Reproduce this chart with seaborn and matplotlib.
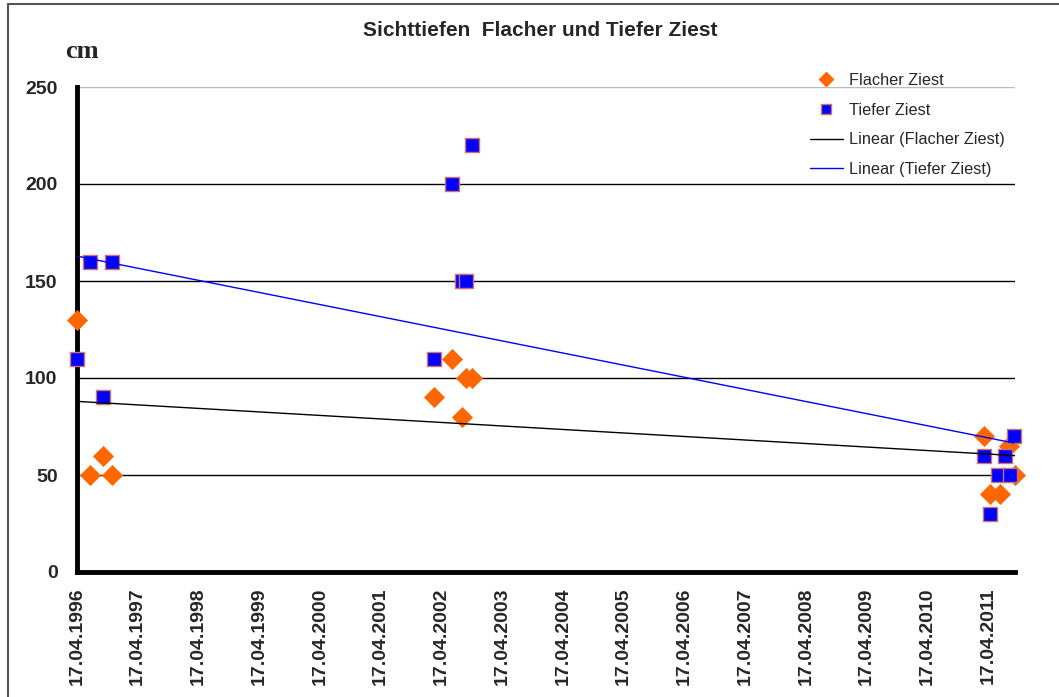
import matplotlib
matplotlib.use("Agg")
import matplotlib.pyplot as plt
import matplotlib.dates as mdates
from matplotlib.lines import Line2D
import pandas as pd
import seaborn as sns

# Sichttiefen (cm)
flach_dates = ["17.04.1996", "04.07.1996", "20.09.1996", "13.11.1996",
               "01.03.2002", "17.06.2002", "16.08.2002", "09.09.2002", "21.10.2002",
               "24.03.2011", "29.04.2011", "28.06.2011", "21.08.2011", "26.09.2011"]
flach_cm = [130, 50, 60, 50, 90, 110, 80, 100, 100, 70, 40, 40, 65, 50]

tief_dates = ["17.04.1996", "04.07.1996", "20.09.1996", "13.11.1996",
              "01.03.2002", "17.06.2002", "16.08.2002", "09.09.2002", "21.10.2002",
              "24.03.2011", "29.04.2011", "16.06.2011", "28.07.2011", "27.08.2011", "20.09.2011"]
tief_cm = [110, 160, 90, 160, 110, 200, 150, 150, 220, 60, 30, 50, 60, 50, 70]

y_ticks = [0, 50, 100, 150, 200, 250]


def to_num(dates):
    return mdates.date2num(pd.to_datetime(dates, format="%d.%m.%Y"))


def main():
    sns.set_theme(style="white")
    plt.rcParams["font.family"] = ["Liberation Sans", "DejaVu Sans"]

    df_f = pd.DataFrame({"datum": to_num(flach_dates), "cm": flach_cm})
    df_t = pd.DataFrame({"datum": to_num(tief_dates), "cm": tief_cm})

    fig = plt.figure(figsize=(10.59, 6.97), dpi=100)
    ax = fig.add_axes([77 / 1059, 1 - 572 / 697, (1015 - 77) / 1059, (572 - 87) / 697])

    # Punkte
    sns.scatterplot(data=df_f, x="datum", y="cm", ax=ax, marker="D", s=105,
                    color="#FF6600", edgecolor="#FF6600", linewidth=0.5,
                    clip_on=False, zorder=4, legend=False)
    sns.scatterplot(data=df_t, x="datum", y="cm", ax=ax, marker="s", s=95,
                    color="#0000FF", edgecolor="#D07070", linewidth=1.0,
                    clip_on=False, zorder=5, legend=False)

    # lineare Trendlinien
    sns.regplot(data=df_f, x="datum", y="cm", ax=ax, scatter=False, ci=None,
                truncate=True, line_kws={"color": "black", "lw": 1.0, "zorder": 6})
    sns.regplot(data=df_t, x="datum", y="cm", ax=ax, scatter=False, ci=None,
                truncate=True, line_kws={"color": "#0000FF", "lw": 1.0, "zorder": 6})

    ax.set_xlim(df_f["datum"].min(), max(df_f["datum"].max(), df_t["datum"].max()))
    ax.set_ylim(0, 250)
    ax.set_yticks(y_ticks)
    ax.xaxis.set_major_locator(mdates.YearLocator(1, month=4, day=17))
    ax.xaxis.set_major_formatter(mdates.DateFormatter("%d.%m.%Y"))

    ax.yaxis.grid(True, color="black", lw=1.0)
    ax.xaxis.grid(False)
    for line, val in zip(ax.get_ygridlines(), y_ticks):
        if val == 250:
            line.set_color("#BBBBBB")
    ax.set_axisbelow(True)

    for side in ["top", "right"]:
        ax.spines[side].set_visible(False)
    for side in ["left", "bottom"]:
        ax.spines[side].set_color("black")
        ax.spines[side].set_linewidth(3.5)
        ax.spines[side].set_zorder(3)

    ax.tick_params(axis="y", length=0, pad=14, labelsize=14)
    ax.tick_params(axis="x", length=0, pad=11, labelsize=14, rotation=90)
    for lab in ax.get_xticklabels() + ax.get_yticklabels():
        lab.set_fontweight("bold")
    ax.set_xlabel("")
    ax.set_ylabel("")

    fig.text(540 / 1059, 1 - 30 / 697, "Sichttiefen  Flacher und Tiefer Ziest",
             ha="center", va="center", fontsize=15, fontweight="bold")
    fig.text(82 / 1059, 1 - 52 / 697, "cm", ha="center", va="center",
             fontsize=19, fontweight="bold", family="Liberation Serif")

    handles = [
        Line2D([], [], ls="none", marker="D", ms=7, color="#FF6600"),
        Line2D([], [], ls="none", marker="s", ms=7.5, markerfacecolor="#0000FF",
               markeredgecolor="#D07070", markeredgewidth=1.0),
        Line2D([], [], color="black", lw=1.0),
        Line2D([], [], color="#0000FF", lw=1.0),
    ]
    labels = ["Flacher Ziest", "Tiefer Ziest", "Linear (Flacher Ziest)", "Linear (Tiefer Ziest)"]
    ax.legend(handles, labels, loc="upper left", frameon=False,
              bbox_to_anchor=(802 / 1059, 1 - 65 / 697), bbox_transform=fig.transFigure,
              fontsize=11.7, handlelength=2.0, handletextpad=0.4,
              labelspacing=0.9, borderpad=0)

    # Rahmen des Diagrammbereichs
    fig.add_artist(Line2D([8 / 1059, 8 / 1059], [0, 1 - 4 / 697], color="#555555", lw=1.5))
    fig.add_artist(Line2D([8 / 1059, 1], [1 - 4 / 697, 1 - 4 / 697], color="#555555", lw=1.5))

    fig.savefig("out.png", dpi=100, facecolor="white")


if __name__ == "__main__":
    main()
